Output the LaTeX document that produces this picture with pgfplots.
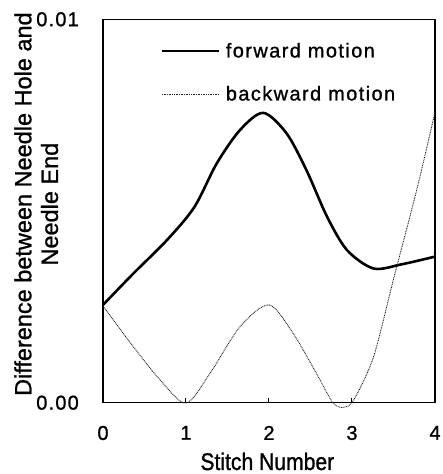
\documentclass[border=0pt]{standalone}
\usepackage{fontspec}
\setmainfont[FakeBold=1]{Liberation Sans}
\newfontfamily\tickfont[LetterSpace=6,FakeBold=1]{Liberation Sans}
\newfontfamily\legfont[LetterSpace=7,FakeBold=1]{Liberation Sans}
\newfontfamily\xlabfont[FakeStretch=0.88,FakeBold=1]{Liberation Sans}
\usepackage{pgfplots}
\pgfplotsset{compat=1.18}
\begin{document}
\begin{tikzpicture}
\begin{axis}[
  scale only axis,
  width=332pt, height=383.4pt,
  xmin=0, xmax=4, ymin=0, ymax=0.01,
  clip=false,
  axis line style={line width=1.4pt},
  xtick={0,1,2,3,4},
  ytick={0,0.01},
  xtick pos=bottom, ytick pos=left,
  tick align=inside,
  major tick length=5pt,
  xtick style={line width=1pt, black},
  ytick style={draw=none},
  scaled y ticks=false,
  /pgf/number format/assume math mode=true,
  yticklabel style={/pgf/number format/fixed, /pgf/number format/fixed zerofill, /pgf/number format/precision=2,
    anchor=east, inner sep=0pt, xshift=-24pt},
  xticklabel style={anchor=north, inner sep=0pt, yshift=-23pt},
  ticklabel style={font=\tickfont\fontsize{20}{24}\selectfont},
  xlabel={Stitch Number},
  xlabel style={font=\xlabfont\fontsize{24}{28}\selectfont, inner sep=0pt,
    at={(axis description cs:0.495,-0.1755)}, anchor=base},
  ylabel={Difference between Needle Hole and\\Needle End},
  ylabel style={font=\fontsize{23.5}{26.6}\selectfont, align=center,
    at={(axis description cs:-0.1345,0.518)}, anchor=south, inner sep=0pt},
  legend style={draw=none, fill=none, at={(rel axis cs:0.173,0.944)}, anchor=north west,
    font=\legfont\fontsize{20}{24}\selectfont, row sep=23pt, inner sep=0pt,
    nodes={inner xsep=6pt, inner ysep=2pt, anchor=west}},
  legend cell align=left,
  legend image code/.code={\draw[#1] (0pt,0pt) -- (56.6pt,0pt);},
]
\addplot[black, line width=2.6pt, smooth] coordinates {
(0,0.00255) (0.366,0.00337) (0.77,0.00424) (1.1,0.0051)
(1.37,0.00624) (1.65,0.00711) (1.93,0.00756) (2.21,0.00703) (2.45,0.00607)
(2.70,0.00485) (2.94,0.00398) (3.26,0.00350) (3.6,0.00361) (4.00,0.00381)
};
\addlegendentry{forward motion}
\addplot[black!85, line width=0.9pt, dash pattern=on 0.9pt off 0.8pt, smooth] coordinates {
(0,0.00252) (0.366,0.00146) (0.69,0.00059) (1.0,-0.00001)
(1.29,0.00077) (1.65,0.00198) (2.0,0.00255)
(2.29,0.00181) (2.57,0.00077) (2.77,0.00000) (2.90,-0.00012) (3.02,0.00007)
(3.26,0.0012) (3.5,0.00322) (3.78,0.00555) (4.00,0.00758)
};
\addlegendentry{backward motion}
\end{axis}
\pgfresetboundingbox
\path ([xshift=-103pt,yshift=-71.3pt]current axis.south west) rectangle ([xshift=8pt,yshift=19.3pt]current axis.north east);
\end{tikzpicture}
\end{document}
